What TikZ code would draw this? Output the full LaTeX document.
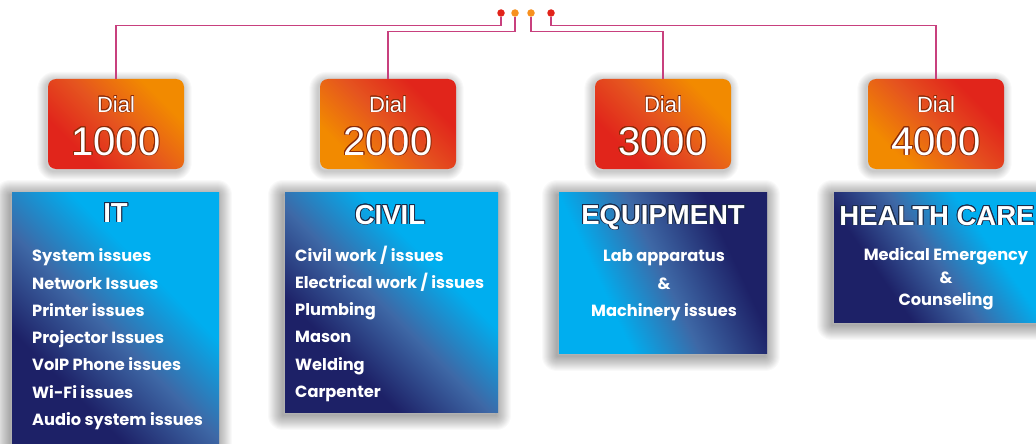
\documentclass[tikz,border=0pt]{standalone}
\usepackage{fontspec}
\setmainfont{Liberation Sans}
\newfontfamily\itemfont{Poppins}
\usepackage[copies]{contour}
\contournumber{16}
\usetikzlibrary{backgrounds}
\definecolor{navy}{HTML}{1D2167}
\definecolor{midblue}{HTML}{3E68A6}
\definecolor{cyanb}{HTML}{00AEEF}
\definecolor{dred}{HTML}{E1251B}
\definecolor{dmid}{HTML}{E5541F}
\definecolor{dorange}{HTML}{F28A00}
\definecolor{linkc}{HTML}{C8407E}
\definecolor{dotred}{HTML}{E2231A}
\definecolor{dotorange}{HTML}{F7901E}
\definecolor{dialglow}{HTML}{8A2A08}
\definecolor{titleglow}{HTML}{1A2A48}
\pgfdeclarehorizontalshading{bluegrad}{100bp}{color(0bp)=(navy); color(33bp)=(navy); color(48bp)=(midblue); color(63bp)=(cyanb); color(100bp)=(cyanb)}
\pgfdeclarehorizontalshading{bluegradr}{100bp}{color(0bp)=(cyanb); color(34bp)=(cyanb); color(50bp)=(midblue); color(68bp)=(navy); color(100bp)=(navy)}
\pgfdeclarehorizontalshading{dialgrad}{100bp}{color(0bp)=(dred); color(30bp)=(dred); color(50bp)=(dmid); color(72bp)=(dorange); color(100bp)=(dorange)}
\pgfdeclarehorizontalshading{dialgradr}{100bp}{color(0bp)=(dorange); color(28bp)=(dorange); color(50bp)=(dmid); color(70bp)=(dred); color(100bp)=(dred)}
\begin{document}
\begin{tikzpicture}[x=1pt,y=-1pt,
  link/.style={draw=linkc, line width=1.1pt},
  dot/.style={circle, inner sep=0pt, minimum size=7.5pt},
  dialbox/.style={shade, rounded corners=8pt, minimum width=136pt, minimum height=90pt, inner sep=0pt},
  bluebox/.style={shade, anchor=north west, inner sep=0pt},
  shadowring/.style={draw=black, draw opacity=0.024, line join=round},
  dialword/.style={text=white, font=\fontsize{22}{24}\selectfont, anchor=base},
  dialnum/.style={text=white, font=\fontsize{40}{44}\selectfont, anchor=base},
  title/.style={text=white, font=\fontsize{27.5}{30}\selectfont\bfseries, anchor=base},
  item/.style={text=white, font=\itemfont\bfseries\fontsize{16.2}{18}\selectfont, inner sep=0pt},
]
\clip (0,0) rectangle (1036,444);

% dial boxes
\node[dialbox, shading=dialgrad, shading angle=45] (dial1) at (116,124) {};
\node[dialbox, shading=dialgradr, shading angle=45] (dial2) at (388,124) {};
\node[dialbox, shading=dialgrad, shading angle=45] (dial3) at (663,124) {};
\node[dialbox, shading=dialgradr, shading angle=45] (dial4) at (936,124) {};

% blue boxes
\node[bluebox, shading=bluegrad, shading angle=45, minimum width=207pt, minimum height=262pt] (it) at (12,192) {};
\node[bluebox, shading=bluegrad, shading angle=45, minimum width=213pt, minimum height=220pt] (civil) at (285,192) {};
\node[bluebox, shading=bluegradr, shading angle=25, minimum width=208pt, minimum height=161pt] (equip) at (559,192) {};
\node[bluebox, shading=bluegrad, shading angle=35, minimum width=215pt, minimum height=130pt] (health) at (834,192) {};

% soft shadows behind the boxes
\begin{pgfonlayer}{background}
\fill[white] (0,0) rectangle (1036,444);
\foreach \b in {it,civil,equip,health}{
  \foreach \k in {1,...,15}{
    \draw[shadowring, line width=2*\k pt]
      ([shift={(-2,3)}]\b.north west) rectangle ([shift={(-2,3)}]\b.south east);
  }
}
\foreach \b in {dial1,dial2,dial3,dial4}{
  \foreach \k in {1,...,9}{
    \draw[shadowring, line width=2*\k pt, rounded corners=8pt]
      ([shift={(-1.5,2)}]\b.north west) rectangle ([shift={(-1.5,2)}]\b.south east);
  }
}
\end{pgfonlayer}

% dots
\node[dot, fill=dotred] (d1) at (501,13) {};
\node[dot, fill=dotorange] (d2) at (515,13) {};
\node[dot, fill=dotorange] (d3) at (531,13) {};
\node[dot, fill=dotred] (d4) at (551,13) {};

% connectors
\draw[link] (d1.south) -- ++(0,9) -| (dial1.north);
\draw[link] (d2.south) -- ++(0,14.5) -| (dial2.north);
\draw[link] (d3.south) -- ++(0,14.5) -| (dial3.north);
\draw[link] (d4.south) -- ++(0,9) -| (dial4.north);

% dial texts
\foreach \n/\x in {1/116,2/388,3/663,4/936}{
  \node[dialword] (dw\n) at (\x,112) {\contourlength{0.6pt}\contour{dialglow}{Dial}};
  \node[dialnum] (dn\n) at (\x,155) {\contourlength{0.8pt}\contour{dialglow}{\n000}};
}

% titles
\node[title] (itT) at (115.5,222) {\contourlength{0.9pt}\contour{titleglow}{IT}};
\node[title] (civilT) at (390,224) {\contourlength{0.9pt}\contour{titleglow}{CIVIL}};
\node[title] (equipT) at (663,224) {\contourlength{0.9pt}\contour{titleglow}{EQUIPMENT}};
\node[title] (healthT) at (937,225) {\contourlength{0.9pt}\contour{titleglow}{HEALTH CARE}};

% items
\foreach \t [count=\i] in {System issues, Network Issues, Printer issues, Projector Issues, VoIP Phone issues, Wi-Fi issues, Audio system issues}
  \node[item, anchor=base west] (it\i) at (32,{261.7+27.3*(\i-1)}) {\t};
\foreach \t [count=\i] in {Civil work / issues, Electrical work / issues, Plumbing, Mason, Welding, Carpenter}
  \node[item, anchor=base west] (civil\i) at (295,{261+27.3*(\i-1)}) {\t};
\node[item, anchor=base] (eq1) at (664,261.7) {Lab apparatus};
\node[item, anchor=base] (eq2) at (664,289) {\&};
\node[item, anchor=base] (eq3) at (664,316) {Machinery issues};
\node[item, anchor=base] (hc1) at (946,260) {Medical Emergency};
\node[item, anchor=base] (hc2) at (946,283.3) {\&};
\node[item, anchor=base] (hc3) at (946,305.7) {Counseling};
\end{tikzpicture}
\end{document}
